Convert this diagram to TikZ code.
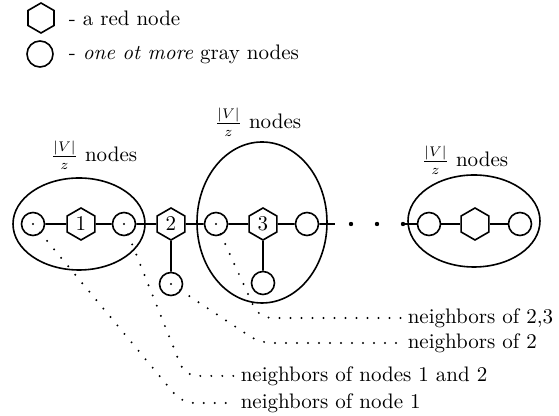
\documentclass[tikz,border=0pt]{standalone}
\usetikzlibrary{shapes.geometric}
\begin{document}
\begin{tikzpicture}[x=0.5pt,y=-0.5pt, line width=0.8pt,
  hexa/.style={draw, regular polygon, regular polygon sides=6, shape border rotate=30, minimum size=16pt, inner sep=0pt, font=\fontsize{10.5}{12}\selectfont},
  graynode/.style={draw, circle, minimum size=11.5pt, inner sep=0pt},
  grp/.style={draw, ellipse, inner sep=0pt},
  lab/.style={font=\fontsize{10.5}{12}\selectfont, inner sep=0pt},
  nb/.style={line width=1.1pt, dash pattern=on 0pt off 5.5pt, line cap=round, rounded corners=6pt}]
\useasboundingbox (0,0) rectangle (559,416);
% legend
\node[hexa, minimum size=15pt] (lh) at (41,18) {};
\node[lab, anchor=west] (lht) at (68,18) {- a red node};
\node[graynode, minimum size=13pt] (lc) at (40,54) {};
\node[lab, anchor=west] (lct) at (68,54) {- \textit{one ot more} gray nodes};
% groups
\node[grp, minimum width=66pt, minimum height=46pt] (E1) at (79,224) {};
\node[grp, minimum width=65pt, minimum height=80.5pt] (E2) at (262,222.5) {};
\node[grp, minimum width=66pt, minimum height=46pt] (E3) at (474,221) {};
\node[lab] (L1) at (94,155) {$\frac{|V|}{z}$ nodes};
\node[lab] (L2) at (258,122) {$\frac{|V|}{z}$ nodes};
\node[lab] (L3) at (465,160) {$\frac{|V|}{z}$ nodes};
% row
\node[graynode] (a) at (33,224) {};
\node[hexa] (h1) at (81,224) {1};
\node[graynode] (b) at (124,224) {};
\node[hexa] (h2) at (171,224) {2};
\node[graynode] (c) at (216,224) {};
\node[hexa] (h3) at (263,224) {3};
\node[graynode] (d) at (307,224) {};
\coordinate (dend) at (335,224);
\coordinate (dstart) at (403,224);
\node[graynode] (e) at (429,224) {};
\node[hexa] (hf) at (475,224) {};
\node[graynode] (g) at (520,224) {};
\node[graynode] (b2) at (171,284) {};
\node[graynode] (b3) at (263,283) {};
\draw (a) -- (h1) -- (b) -- (h2) -- (c) -- (h3) -- (d) -- (dend);
\draw (dstart) -- (e) -- (hf) -- (g);
\draw (h2) -- (b2);
\draw (h3) -- (b3);
\foreach \x in {351,377,403} \fill (\x,224) circle (1.1pt);
% neighbor labels
\node[lab, anchor=west] (n23) at (407,318) {neighbors of 2,3};
\node[lab, anchor=west] (n2) at (407,343) {neighbors of 2};
\node[lab, anchor=west] (n12) at (240,376) {neighbors of nodes 1 and 2};
\node[lab, anchor=west] (n1) at (240,403) {neighbors of node 1};
\draw[nb] (a.center) -- (182,403) -- ([xshift=-3pt]n1.west);
\draw[nb] (b.center) -- (185,376) -- ([xshift=-3pt]n12.west);
\draw[nb] (b2.center) -- (260,343) -- ([xshift=-3pt]n2.west);
\draw[nb] (c.center) -- (259,318) -- ([xshift=-3pt]n23.west);
\end{tikzpicture}
\end{document}
